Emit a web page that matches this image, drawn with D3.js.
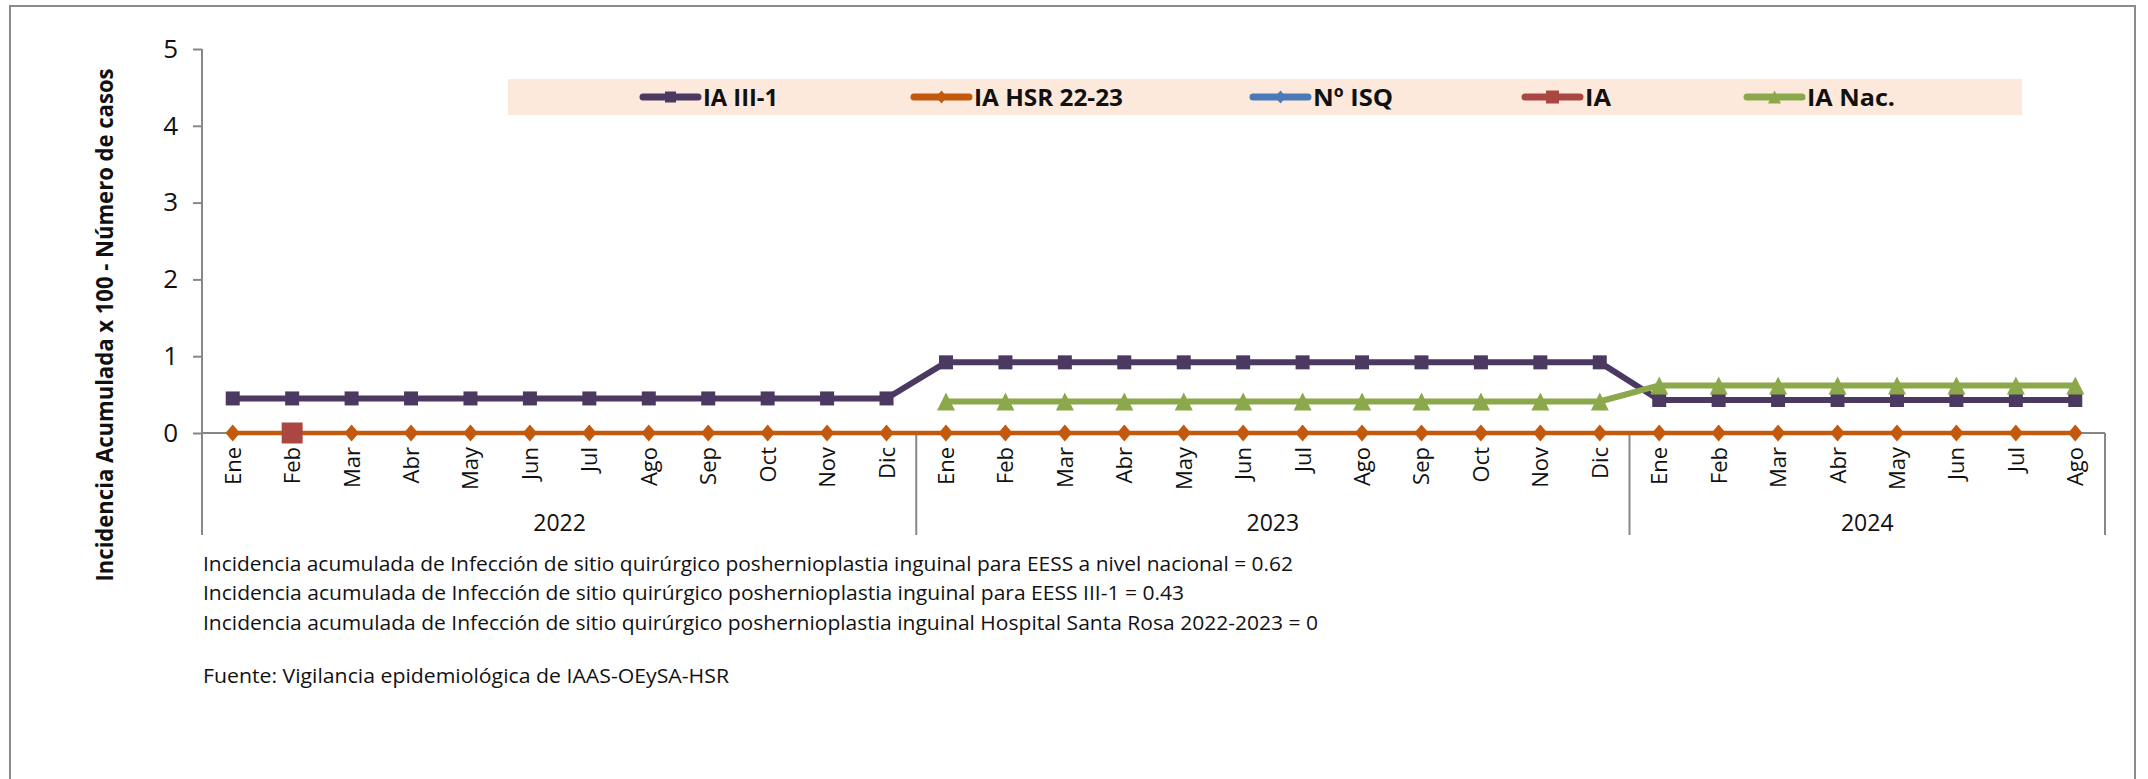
<!DOCTYPE html>
<html>
<head>
<meta charset="utf-8">
<script src="https://cdn.jsdelivr.net/npm/d3@7"></script>
<style>
  html, body { margin: 0; padding: 0; background: #ffffff; }
  svg { display: block; }
  text { font-family: "Open Sans", "Noto Sans", sans-serif; fill: #111; }
</style>
</head>
<body>
<svg id="chart" width="2148" height="779"></svg>
<script>
// ---------------- DATA ----------------
const years = ["2022", "2023", "2024"];
const monthsPerYear = [12, 12, 8];
const months = [
  "Ene","Feb","Mar","Abr","May","Jun","Jul","Ago","Sep","Oct","Nov","Dic",
  "Ene","Feb","Mar","Abr","May","Jun","Jul","Ago","Sep","Oct","Nov","Dic",
  "Ene","Feb","Mar","Abr","May","Jun","Jul","Ago"
];
const iaIII1 = [
  0.45,0.45,0.45,0.45,0.45,0.45,0.45,0.45,0.45,0.45,0.45,0.45,
  0.92,0.92,0.92,0.92,0.92,0.92,0.92,0.92,0.92,0.92,0.92,0.92,
  0.43,0.43,0.43,0.43,0.43,0.43,0.43,0.43
];
const iaHSR = [
  0,0,0,0,0,0,0,0,0,0,0,0,
  0,0,0,0,0,0,0,0,0,0,0,0,
  0,0,0,0,0,0,0,0
];
const nISQ = [
  null,null,null,null,null,null,null,null,null,null,null,null,
  null,null,null,null,null,null,null,null,null,null,null,null,
  null,null,null,null,null,null,null,null
];
const iaHosp = [
  null,0,null,null,null,null,null,null,null,null,null,null,
  null,null,null,null,null,null,null,null,null,null,null,null,
  null,null,null,null,null,null,null,null
];
const iaNac = [
  null,null,null,null,null,null,null,null,null,null,null,null,
  0.41,0.41,0.41,0.41,0.41,0.41,0.41,0.41,0.41,0.41,0.41,0.41,
  0.62,0.62,0.62,0.62,0.62,0.62,0.62,0.62
];
const yTicks = [0, 1, 2, 3, 4, 5];
const seriesNames = ["IA III-1", "IA HSR 22-23", "Nº ISQ", "IA", "IA  Nac."];
const notes = [
  "Incidencia acumulada de Infección de sitio quirúrgico poshernioplastia inguinal para EESS a nivel nacional = 0.62",
  "Incidencia acumulada de Infección de sitio quirúrgico poshernioplastia inguinal para EESS III-1 = 0.43",
  "Incidencia acumulada de Infección de sitio quirúrgico poshernioplastia inguinal Hospital Santa Rosa  2022-2023 = 0"
];
const source = "Fuente: Vigilancia epidemiológica  de IAAS-OEySA-HSR";
const yTitle = "Incidencia Acumulada x 100 - Número de casos";

// ---------------- STYLE ----------------
const series = [
  {name: seriesNames[0], values: iaIII1, color: "#4b3962", width: 6, marker: "square", size: 14, lsize: 11},
  {name: seriesNames[1], values: iaHSR,  color: "#c2590d", width: 4.5, marker: "diamond", size: 17, lsize: 13},
  {name: seriesNames[2], values: nISQ,   color: "#4a7ab8", width: 4.5, marker: "diamond", size: 17, lsize: 13},
  {name: seriesNames[3], values: iaHosp, color: "#ab4743", width: 4.5, marker: "square", size: 21, lsize: 13},
  {name: seriesNames[4], values: iaNac,  color: "#8ba84b", width: 6, marker: "triangle", size: 18, lsize: 13}
];

const svg = d3.select("#chart");
const axisColor = "#878787";

// outer border
svg.append("rect").attr("x", 10).attr("y", 6).attr("width", 2125).attr("height", 820)
  .attr("fill", "none").attr("stroke", "#8c8c8c").attr("stroke-width", 2);

// ---------------- SCALES ----------------
const x = d3.scaleBand().domain(d3.range(months.length)).range([203, 2105]).padding(0);
const cx = i => x(i) + x.bandwidth() / 2;
const y = d3.scaleLinear().domain([0, 5]).range([433, 49]);
const axisBottom = 535;

// y axis
const yAxis = svg.append("g").attr("transform", "translate(202,0)")
  .call(d3.axisLeft(y).tickValues(yTicks).tickSize(9).tickPadding(15).tickFormat(d3.format("d")));
yAxis.select(".domain").remove();
yAxis.selectAll(".tick line").attr("stroke", axisColor).attr("stroke-width", 2);
yAxis.selectAll(".tick text").attr("font-size", 26).attr("fill", "#111")
  .attr("font-family", "'Open Sans', sans-serif");
svg.append("line").attr("x1", 202).attr("x2", 202).attr("y1", y(5)).attr("y2", axisBottom)
  .attr("stroke", axisColor).attr("stroke-width", 2);

// x axis line
svg.append("line").attr("x1", 202).attr("x2", x.range()[1]).attr("y1", y(0)).attr("y2", y(0))
  .attr("stroke", axisColor).attr("stroke-width", 2);

// year separators & labels
let start = 0;
monthsPerYear.forEach((n, k) => {
  const x0 = x(start);
  const x1 = start + n < months.length ? x(start + n) : x.range()[1];
  svg.append("line").attr("x1", x1).attr("x2", x1).attr("y1", y(0)).attr("y2", axisBottom)
    .attr("stroke", axisColor).attr("stroke-width", 2);
  svg.append("text").attr("x", (x0 + x1) / 2).attr("y", 531).attr("text-anchor", "middle")
    .attr("font-size", 23).text(years[k]);
  start += n;
});

// month labels
svg.append("g").selectAll("text").data(months).join("text")
  .attr("transform", (d, i) => `translate(${cx(i) + 8},447) rotate(-90)`)
  .attr("text-anchor", "end").attr("font-size", 22).text(d => d);

// y title
svg.append("text").attr("transform", "translate(113,325) rotate(-90)")
  .attr("text-anchor", "middle").attr("font-size", 23).attr("font-weight", "bold")
  .attr("textLength", 513).attr("lengthAdjust", "spacingAndGlyphs").text(yTitle);

// ---------------- MARKERS ----------------
function markerPath(type, s) {
  const h = s / 2;
  if (type === "square") return `M${-h},${-h}H${h}V${h}H${-h}Z`;
  if (type === "diamond") return `M0,${-h}L${h * 0.85},0L0,${h}L${-h * 0.85},0Z`;
  if (type === "triangle") return `M0,${-h}L${h},${h}L${-h},${h}Z`;
}

// ---------------- SERIES ----------------
const line = d3.line().defined(d => d.v !== null).x(d => cx(d.i)).y(d => y(d.v));
series.forEach(s => {
  const pts = s.values.map((v, i) => ({v, i}));
  const g = svg.append("g");
  g.append("path").datum(pts).attr("d", line).attr("fill", "none")
    .attr("stroke", s.color).attr("stroke-width", s.width).attr("stroke-linejoin", "round");
  g.selectAll("path.m").data(pts.filter(d => d.v !== null)).join("path").attr("class", "m")
    .attr("transform", d => `translate(${cx(d.i)},${y(d.v)})`)
    .attr("d", markerPath(s.marker, s.size)).attr("fill", s.color);
});

// ---------------- LEGEND ----------------
svg.append("rect").attr("x", 508).attr("y", 79).attr("width", 1514).attr("height", 36).attr("fill", "#fde9db");
const legendX = [643, 914, 1253, 1525, 1747];
const legendTextW = [75, 149, 80, 26, 88];
series.forEach((s, k) => {
  const lx = legendX[k];
  svg.append("line").attr("x1", lx).attr("x2", lx + 55).attr("y1", 97).attr("y2", 97)
    .attr("stroke", s.color).attr("stroke-width", 7).attr("stroke-linecap", "round");
  svg.append("path").attr("transform", `translate(${lx + 27.5},97)`)
    .attr("d", markerPath(s.marker, s.lsize)).attr("fill", s.color);
  svg.append("text").attr("x", lx + 60).attr("y", 106).attr("font-size", 24).attr("font-weight", "bold")
    .attr("textLength", legendTextW[k]).attr("lengthAdjust", "spacingAndGlyphs").text(s.name);
});

// ---------------- NOTES ----------------
const noteW = [1090, 981, 1115];
const noteY = [571, 600, 630];
notes.forEach((t, k) => {
  svg.append("text").attr("x", 203).attr("y", noteY[k]).attr("font-size", 20.5)
    .attr("textLength", noteW[k]).attr("lengthAdjust", "spacingAndGlyphs").text(t);
});
svg.append("text").attr("x", 203).attr("y", 683).attr("font-size", 20.5)
  .attr("textLength", 526).attr("lengthAdjust", "spacingAndGlyphs").text(source);
</script>
</body>
</html>
